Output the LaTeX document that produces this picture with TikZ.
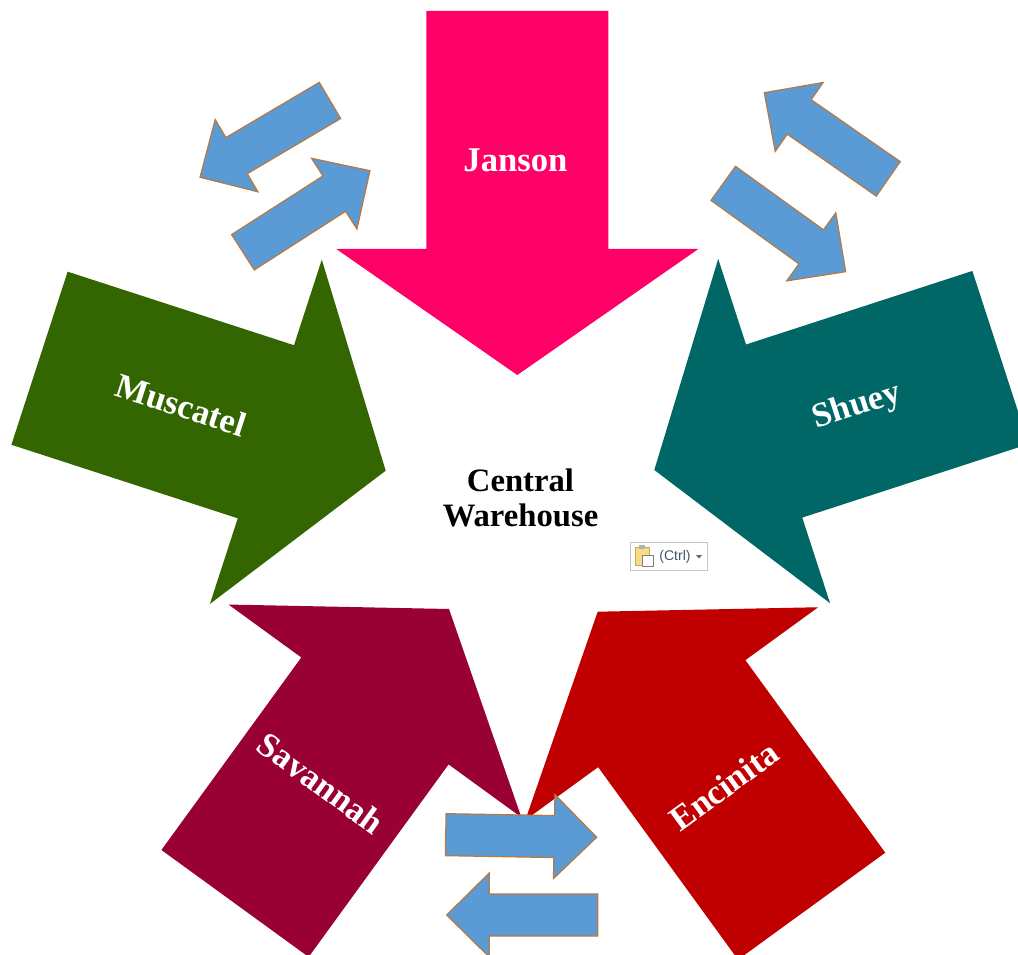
\documentclass[tikz,border=0pt]{standalone}
\usepackage{fontspec}
\setmainfont{Liberation Serif}
\newfontfamily\uifont{Liberation Sans}
\usepackage{xcolor}

\definecolor{jansonpink}{HTML}{FF0066}
\definecolor{muscatelgreen}{HTML}{336600}
\definecolor{shueyteal}{HTML}{006666}
\definecolor{savannahred}{HTML}{990033}
\definecolor{encinitared}{HTML}{C00000}
\definecolor{swapblue}{HTML}{5B9BD5}
\definecolor{swapedge}{HTML}{B9783F}
\definecolor{clipyellow}{HTML}{F7DC85}
\definecolor{cliptan}{HTML}{C9A856}
\definecolor{ctrltext}{HTML}{44546A}

\begin{document}
\begin{tikzpicture}[x=0.75pt, y=-0.75pt,
  every node/.style={font=\bfseries\fontsize{26}{30}\selectfont},
  site label/.style={text=white},
  swap arrow/.style={fill=swapblue, draw=swapedge, line width=0.9pt}]
\useasboundingbox (0,0) rectangle (1018,955);
\clip (0,0) rectangle (1018,955);
\fill[white] (0,0) rectangle (1018,955);
% big arrows: tip x/tip y/direction/colour/name/label x/label y/label angle
\foreach \tx/\ty/\dir/\col/\name/\lx/\ly/\lrot in {
  517.3/375/-90/jansonpink/Janson/515.5/160/0,
  385.7/470.7/-18/muscatelgreen/Muscatel/181/405/-18,
  654.3/470/198/shueyteal/Shuey/857/407/18,
  449/609/54/savannahred/Savannah/321/783/-36,
  597.7/611.7/126/encinitared/Encinita/724/786/36}
{
  \fill[\col, shift={(\tx,\ty)}, rotate=\dir]
    (0,0) -- (-126,181) -- (-126,91) -- (-364,91) -- (-364,-91)
    -- (-126,-91) -- (-126,-181) -- cycle;
  \node[site label, rotate=\lrot] (\name) at (\lx,\ly) {\name};
}
\node[align=center, font=\bfseries\fontsize{24.5}{26.25}\selectfont] (warehouse) at (520.5,498) {Central\\Warehouse};
% small swap arrows
\foreach \tx/\ty/\dir in {200/177.3/210.6, 370/170.7/32.7, 764.3/92.7/145.2,
  845.7/271.7/-35.8, 596.7/837.3/-1, 446.7/915/180}
  \draw[swap arrow, shift={(\tx,\ty)}, rotate=\dir]
    (0,0) -- (-42.5,42) -- (-42.5,21) -- (-151,21) -- (-151,-21)
    -- (-42.5,-21) -- (-42.5,-42) -- cycle;
% paste button
\draw[gray!45, fill=white] (630.7,542.7) rectangle (707.3,570.7);
\filldraw[fill=clipyellow, draw=cliptan] (635,547) rectangle (649,565);
\fill[gray!60] (639,545) rectangle (645,549);
\draw[gray, fill=white] (642,555) rectangle (653,566);
\node[font=\uifont\fontsize{10.5}{12}\selectfont, text=ctrltext] (ctrl) at (675,556.5) {(Ctrl)};
\fill[gray!80!black] (696,555) -- (702,555) -- (699,558.5) -- cycle;
\end{tikzpicture}
\end{document}
